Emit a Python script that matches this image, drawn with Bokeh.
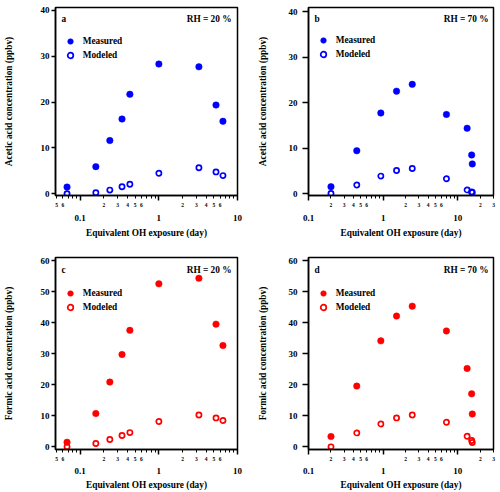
from bokeh.plotting import figure
from bokeh.layouts import column, row
from bokeh.models import (FixedTicker, Range1d, Label, LogAxis, ColumnDataSource,
                          Legend, LegendItem)
from bokeh.embed import file_html
from bokeh.resources import INLINE

# ---------------- data ----------------
# equivalent OH exposure (day)
x_rh20 = [0.068, 0.158, 0.238, 0.340, 0.428, 1.0, 3.23, 5.33, 6.53]
x_rh70 = [0.2, 0.443, 0.93, 1.51, 2.45, 7.03, 13.3, 15.3, 15.6]

# acetic acid (ppbv)
acetic_meas_rh20 = [1.43, 5.9, 11.6, 16.3, 21.7, 28.3, 27.7, 19.35, 15.8]
acetic_mod_rh20 = [0.0, 0.2, 0.78, 1.5, 2.07, 4.45, 5.67, 4.75, 3.95]
acetic_meas_rh70 = [1.52, 9.42, 17.7, 22.5, 24.0, 17.4, 14.35, 8.48, 6.52]
acetic_mod_rh70 = [0.0, 1.88, 3.84, 5.07, 5.5, 3.26, 0.8, 0.35, 0.22]

# formic acid (ppbv)
formic_meas_rh20 = [1.5, 10.75, 20.9, 29.8, 37.6, 52.6, 54.4, 39.6, 32.7]
formic_mod_rh20 = [0.0, 1.08, 2.37, 3.66, 4.6, 8.2, 10.3, 9.35, 8.5]
formic_meas_rh70 = [3.33, 19.6, 34.2, 42.2, 45.4, 37.4, 25.3, 17.1, 10.6]
formic_mod_rh70 = [0.0, 4.5, 7.4, 9.35, 10.3, 7.96, 3.44, 2.04, 1.4]

# ticks
acetic_yticks = [0, 10, 20, 30, 40]
formic_yticks = [0, 10, 20, 30, 40, 50, 60]
decades = [0.1, 1, 10]
decade_labels = ["0.1", "1", "10"]
# labelled minor ticks
minor_lab_x_rh20 = [0.05, 0.06, 0.2, 0.3, 0.4, 0.5, 0.6, 2, 3, 4, 5, 6]
minor_lab_t_rh20 = ["5", "6", "2", "3", "4", "5", "6", "2", "3", "4", "5", "6"]
minor_lab_x_rh70 = [0.2, 0.3, 0.4, 0.5, 0.6, 2, 3, 4, 5, 6, 20, 30]
minor_lab_t_rh70 = ["2", "3", "4", "5", "6", "2", "3", "4", "5", "6", "2", "3"]
# unlabelled minor ticks
minor_nolab_rh20 = [0.07, 0.08, 0.09, 0.7, 0.8, 0.9, 7, 8, 9]
minor_nolab_rh70 = [0.7, 0.8, 0.9, 7, 8, 9]

FONT = "Liberation Serif"
BLUE = "#0000ff"
RED = "#ff0000"


def make_panel(letter, rh_text, x, meas, mod, color, ylabel, xr, yr, yticks,
               minor_lab_x, minor_lab_t, minor_nolab, borders, ytick_len, ytick_standoff,
               ylabel_standoff, legend_loc, letter_dx, rh_dx, text_dy,
               dec_standoff, xlabel_standoff):
    left, right, top, bottom = borders
    p = figure(width=250, height=246, x_axis_type="log",
               x_range=Range1d(*xr), y_range=Range1d(*yr),
               output_backend="svg", toolbar_location=None,
               min_border_left=left, min_border_right=right,
               min_border_top=top, min_border_bottom=bottom)
    p.grid.visible = False
    p.outline_line_color = "black"
    p.outline_line_width = 1.5
    p.background_fill_color = "white"
    p.border_fill_color = "white"

    src = ColumnDataSource(dict(x=x, meas=meas, mod=mod))
    r1 = p.scatter("x", "meas", source=src, size=6.5, fill_color=color,
                   line_color=color, line_width=0.5)
    r2 = p.scatter("x", "mod", source=src, size=5.2, fill_color=None,
                   line_color=color, line_width=1.7)

    # y axis
    ya = p.yaxis[0]
    ya.ticker = FixedTicker(ticks=yticks)
    ya.minor_tick_line_color = None
    ya.major_tick_out = ytick_len
    ya.major_tick_in = 0
    ya.major_tick_line_width = 1.5
    ya.axis_line_width = 1.5
    ya.major_label_standoff = ytick_standoff
    ya.major_label_text_font = FONT
    ya.major_label_text_font_style = "bold"
    ya.major_label_text_font_size = "9px"
    ya.major_label_text_color = "black"
    ya.axis_label = ylabel
    ya.axis_label_standoff = ylabel_standoff
    ya.axis_label_text_font = FONT
    ya.axis_label_text_font_style = "bold"
    ya.axis_label_text_font_size = "9.3px"
    ya.axis_label_text_color = "black"

    # x axis 1 (on the frame): all ticks, small labels on the minor ticks;
    # decade ticks are drawn as its (longer) "minor" ticks
    xa = p.xaxis[0]
    overrides = dict(zip(minor_lab_x, minor_lab_t))
    overrides.update({v: "" for v in minor_nolab})
    xa.ticker = FixedTicker(ticks=sorted(minor_lab_x + minor_nolab), minor_ticks=decades)
    xa.major_label_overrides = overrides
    xa.major_tick_out = 3
    xa.major_tick_in = 0
    xa.minor_tick_out = 5
    xa.minor_tick_in = 0
    xa.major_tick_line_width = 1
    xa.minor_tick_line_width = 1.5
    xa.axis_line_width = 1.5
    xa.major_label_standoff = 2
    xa.major_label_text_font = FONT
    xa.major_label_text_font_style = "bold"
    xa.major_label_text_font_size = "5.5px"
    xa.major_label_text_color = "black"

    # x axis 2 (stacked below): decade labels and axis title
    xb = LogAxis(ticker=FixedTicker(ticks=decades, minor_ticks=[]),
                 major_label_overrides=dict(zip(decades, decade_labels)),
                 axis_line_color=None, major_tick_line_color=None,
                 minor_tick_line_color=None, major_tick_out=0, major_tick_in=0,
                 major_label_standoff=dec_standoff, major_label_text_font=FONT,
                 major_label_text_font_style="bold", major_label_text_font_size="9px",
                 major_label_text_color="black",
                 axis_label="Equivalent OH exposure (day)",
                 axis_label_standoff=xlabel_standoff,
                 axis_label_text_font=FONT, axis_label_text_font_style="bold",
                 axis_label_text_font_size="9.3px", axis_label_text_color="black")
    p.add_layout(xb, "below")

    # panel letter and RH text
    p.add_layout(Label(x=xr[0], y=yr[1], x_offset=letter_dx, y_offset=-text_dy, text=letter,
                       text_align="left", text_baseline="middle", text_font=FONT,
                       text_font_style="bold", text_font_size="9.3px", text_color="black"))
    p.add_layout(Label(x=xr[1], y=yr[1], x_offset=rh_dx, y_offset=-text_dy, text=rh_text,
                       text_align="right", text_baseline="middle", text_font=FONT,
                       text_font_style="bold", text_font_size="9.3px", text_color="black"))

    legend = Legend(items=[LegendItem(label="Measured", renderers=[r1]),
                           LegendItem(label="Modeled", renderers=[r2])],
                    location=legend_loc, padding=0, margin=0, spacing=-3,
                    glyph_width=14, glyph_height=14, label_height=14,
                    label_standoff=6, border_line_color=None, background_fill_alpha=0,
                    label_text_font=FONT, label_text_font_style="bold",
                    label_text_font_size="9.3px", label_text_color="black",
                    label_text_baseline="middle")
    p.add_layout(legend)
    return p


xr20 = (0.0485, 10)
xr70 = (0.1, 30)

pa = make_panel("a", "RH = 20 %", x_rh20, acetic_meas_rh20, acetic_mod_rh20, BLUE,
                "Acetic acid concentration (ppbv)", xr20, (-0.4, 40.65), acetic_yticks,
                minor_lab_x_rh20, minor_lab_t_rh20, minor_nolab_rh20,
                (51, 13, 7, 49), 4, 2, 24, (7.7, 133.5), 6, -6, 11, 5, 4)
pb = make_panel("b", "RH = 70 %", x_rh70, acetic_meas_rh70, acetic_mod_rh70, BLUE,
                "Acetic acid concentration (ppbv)", xr70, (-0.43, 40.9), acetic_yticks,
                minor_lab_x_rh70, minor_lab_t_rh70, minor_nolab_rh70,
                (58, 7, 5, 51), 6, 5, 18, (7.7, 134), 6, -5, 11, 5, 4)
pc = make_panel("c", "RH = 20 %", x_rh20, formic_meas_rh20, formic_mod_rh20, RED,
                "Formic acid concentration (ppbv)", xr20, (-0.85, 61.1), formic_yticks,
                minor_lab_x_rh20, minor_lab_t_rh20, minor_nolab_rh20,
                (51, 13, 11, 43), 4, 2, 24, (7.7, 135.5), 6, -6, 12, 4, 3)
pd_ = make_panel("d", "RH = 70 %", x_rh70, formic_meas_rh70, formic_mod_rh70, RED,
                 "Formic acid concentration (ppbv)", xr70, (-0.85, 61.1), formic_yticks,
                 minor_lab_x_rh70, minor_lab_t_rh70, minor_nolab_rh70,
                 (58, 7, 11, 43), 6, 5, 18, (7.7, 135.5), 6, -5, 12, 4, 3)

layout = column(row(pa, pb, spacing=0), row(pc, pd_, spacing=0), spacing=0)
open("out.html", "w").write(file_html(layout, INLINE))
